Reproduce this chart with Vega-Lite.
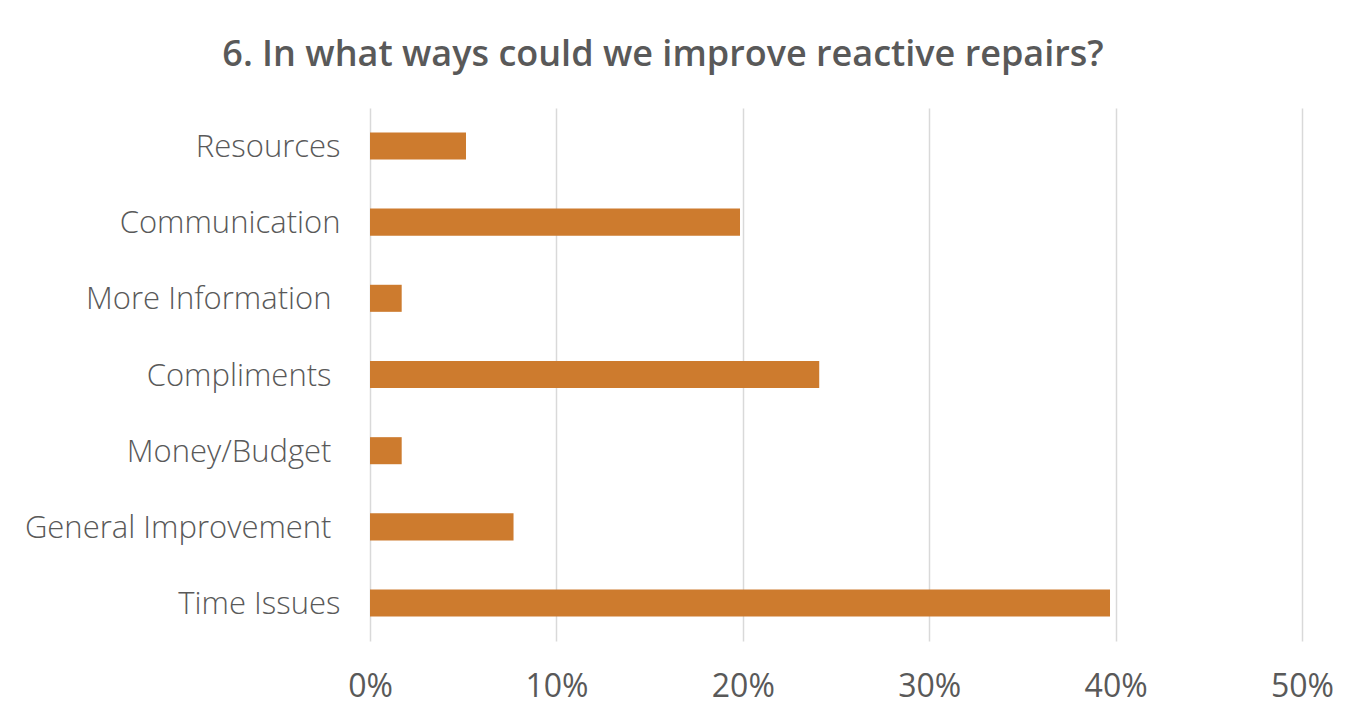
{
  "$schema": "https://vega.github.io/schema/vega-lite/v6.json",
  "width": 932,
  "height": 533,
  "autosize": {"type": "none"},
  "padding": {"left": 370, "top": 108, "right": 69, "bottom": 74},
  "background": "white",
  "title": {
    "text": "6. In what ways could we improve reactive repairs?",
    "font": "Open Sans",
    "fontSize": 36,
    "fontWeight": 600,
    "color": "#595959",
    "anchor": "middle",
    "dx": -173,
    "offset": 34
  },
  "data": {
    "values": [
      {"category": "Resources", "share": 0.0515},
      {"category": "Communication", "share": 0.1985},
      {"category": "More Information", "share": 0.017},
      {"category": "Compliments", "share": 0.241},
      {"category": "Money/Budget", "share": 0.017},
      {"category": "General Improvement", "share": 0.077},
      {"category": "Time Issues", "share": 0.397}
    ]
  },
  "mark": {"type": "bar", "color": "#CD7B2E"},
  "encoding": {
    "y": {
      "field": "category",
      "type": "nominal",
      "sort": null,
      "scale": {"paddingInner": 0.645, "paddingOuter": 0.32},
      "axis": {
        "title": null,
        "domain": false,
        "ticks": false,
        "labelFont": "Open Sans",
        "labelFontSize": 31,
        "labelFontWeight": 300,
        "labelColor": "#595959",
        "labelOffset": 2,
        "labelPadding": {
          "condition": {
            "test": "indexof(['More Information','Compliments','Money/Budget','General Improvement'], datum.value) >= 0",
            "value": 39
          },
          "value": 30
        },
        "labelLimit": 400
      }
    },
    "x": {
      "field": "share",
      "type": "quantitative",
      "scale": {"domain": [0, 0.5], "nice": false},
      "axis": {
        "title": null,
        "format": ".0%",
        "values": [0, 0.1, 0.2, 0.3, 0.4, 0.5],
        "domain": false,
        "ticks": false,
        "grid": true,
        "gridColor": "#d9d9d9",
        "gridWidth": 1.5,
        "labelFont": "Open Sans",
        "labelFontSize": 32,
        "labelFontWeight": 500,
        "labelColor": "#595959",
        "labelPadding": 30,
        "labelFlush": false
      }
    }
  },
  "config": {"view": {"stroke": null}}
}
